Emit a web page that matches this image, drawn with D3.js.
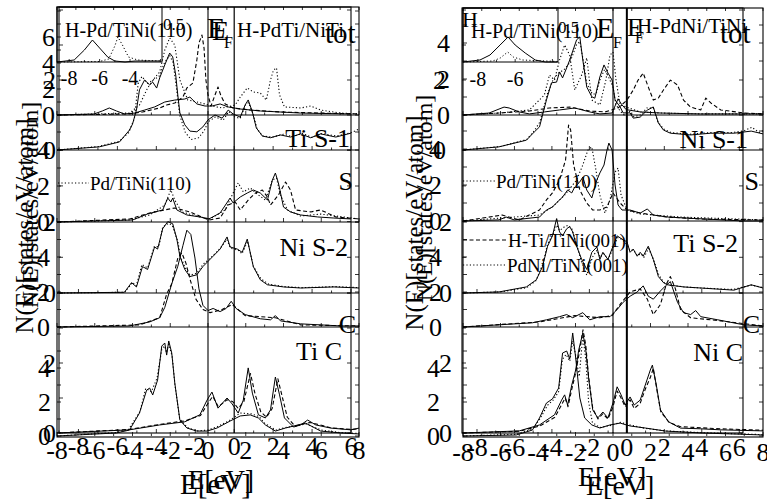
<!DOCTYPE html>
<html><head><meta charset="utf-8">
<script src="https://cdn.jsdelivr.net/npm/d3@7/dist/d3.min.js"></script>
<style>
body{margin:0;background:#fff}
svg{display:block}
</style></head>
<body><svg id="chart" width="767" height="500"></svg>
<script>
// ================= DATA =================
const energyTicksA = [-8,-6,-4,-2,0,2,4,6,8];
const energyTicksB = [-8,-6,-4,-2,0,2,4,6];
const insetTicksL = [-8,-6,-4];
const insetTicksR = [-8,-6];
const dosTicksTotL = [0,2,4,6];
const dosTicks024 = [0,2,4];
const dosTicks02 = [0,2];

const stripNamesL = ['tot','Ti S-1','S','Ni S-2','C','Ti C'];
const stripNamesR = ['tot','Ni S-1','S','Ti S-2','C','Ni C'];
const headerL = ['H-Pd/TiNi(110)','0.5','E','F','H-PdTi/NiTi'];
const headerR = ['H','H-Pd/TiNi(110)','0.5','E','F','H-PdNi/TiNi'];
const legendL = ['Pd/TiNi(110)'];
const legendR = ['Pd/TiNi(110)','H-Ti/TiNi(001)','PdNi/TiNi(001)'];
const axisTitleX = 'E[eV]';
const axisTitleY = 'N(E)[states/eV/atom]';

// ---- left panel curves [E (eV), N(E)] ----
const L_tot_solid = [[-8,0],[-6.03,0.08],[-5.6,0.31],[-5.23,0.54],[-4.85,0.31],[-4.43,0.08],[-3.89,0.15],[-3.36,0.38],[-2.83,0.62],[-2.29,1.0],[-1.76,1.15],[-1.23,1.23],[-0.96,1.38],[-0.59,0.85],[-0.16,0.69],[0.21,0.69],[0.64,0.85],[1.07,0.62],[1.71,0.46],[2.77,0.31],[4.91,0.15],[7.57,0.08]];
const L_tot_dash = [[-8,0],[-4.16,0.08],[-3.47,0.23],[-2.56,0.54],[-2.19,0.77],[-1.76,0.92],[-1.33,1.38],[-1.12,2.08],[-0.8,2.46],[-0.59,4.23],[-0.48,5.54],[-0.32,6.15],[-0.21,5.15],[-0.11,2.69],[0,1.54],[0.16,0.69],[0.37,1.54],[0.53,2.15],[0.69,1.46],[0.91,0.85],[1.33,0.54],[2.24,0.38],[3.84,0.23],[5.97,0.15],[8,0.08]];
const L_tot_dot = [[-8,0],[-4.16,0.15],[-3.63,0.77],[-3.2,2.08],[-2.83,2.85],[-2.56,3.31],[-2.29,5.0],[-2.03,5.92],[-1.76,5.38],[-1.49,2.69],[-1.07,1.15],[-0.59,1.0],[-0.16,0.85],[0.21,0.69],[0.75,0.54],[1.44,0.77],[1.71,1.38],[2.08,2.08],[2.4,1.77],[2.77,1.69],[3.09,1.15],[3.31,2.69],[3.47,3.46],[3.63,3.62],[3.79,1.54],[4.05,0.62],[4.91,0.54],[5.44,0.69],[5.97,0.38],[7.04,0.15],[8,0.08]];
const L_TiS1_solid = [[-8,0],[-5.76,0.09],[-4.69,0.23],[-4.16,0.57],[-4.0,0.74],[-3.79,1.14],[-3.63,1.72],[-3.36,2.0],[-3.09,1.86],[-2.93,1.94],[-2.72,1.77],[-2.56,2.06],[-2.29,2.43],[-2.03,2.77],[-1.87,2.66],[-1.71,2.14],[-1.6,1.57],[-1.49,1.06],[-1.23,0.72],[-0.96,0.54],[-0.59,0.52],[-0.27,0.66],[0,0.86],[0.37,1.0],[0.75,0.91],[1.07,1.14],[1.33,1.03],[1.71,0.94],[1.97,1.29],[2.13,1.43],[2.35,1.09],[2.56,0.63],[2.88,0.4],[3.31,0.35],[3.84,0.43],[4.37,0.37],[4.91,0.46],[5.44,0.35],[5.97,0.46],[6.77,0.37],[7.57,0.48]];
const L_TiS1_dot = [[-8,0],[-5.8,0.1],[-4.7,0.25],[-4.2,0.5],[-3.9,0.9],[-3.7,1.9],[-3.5,2.1],[-3.2,1.9],[-2.9,2.0],[-2.6,2.1],[-2.3,2.5],[-2.03,2.7],[-1.85,2.5],[-1.7,1.9],[-1.5,1.0],[-1.2,0.5],[-0.9,0.3],[-0.5,0.35],[-0.2,0.55],[0,0.8],[0.4,0.95],[0.8,0.85],[1.1,1.1],[1.4,0.95],[1.7,0.9],[2.0,1.3],[2.15,1.35],[2.4,1.0],[2.6,0.6],[2.9,0.4],[3.4,0.37],[4,0.45],[4.5,0.38],[5,0.48],[5.5,0.36],[6,0.47],[6.8,0.4],[7.6,0.5],[8,0.6]];
const L_S_solid = [[-8,0],[-4.0,0.11],[-3.2,0.45],[-2.4,0.67],[-2.13,1.33],[-1.97,1.11],[-1.87,1.33],[-1.65,0.67],[-1.12,0.39],[-0.43,0.28],[0.05,0.17],[0.64,0.5],[1.17,1.33],[1.33,1.06],[1.71,1.39],[2.08,1.61],[2.4,1.78],[2.77,1.61],[3.15,1.22],[3.41,2.33],[3.57,2.72],[3.73,2.17],[4.0,0.83],[4.37,0.56],[4.91,0.39],[5.81,0.28],[6.67,0.22],[7.57,0.17]];
const L_S_dash = [[-8,0],[-4.15,0.17],[-3.09,0.5],[-2.29,0.67],[-1.76,0.78],[-0.96,0.56],[0.05,0.11],[0.64,0.22],[1.07,0.94],[1.44,1.11],[1.71,0.67],[2.13,1.22],[2.51,1.61],[2.88,1.78],[3.15,1.39],[3.31,0.94],[3.73,1.5],[4.11,2.22],[4.37,1.78],[4.64,0.67],[5.44,0.56],[5.97,0.67],[6.77,0.28],[8,0.17]];
const L_S_dot = [[-8,0],[-4.15,0.11],[-3.09,0.39],[-2.29,0.94],[-1.97,1.78],[-1.76,1.22],[-1.39,0.56],[-0.43,0.28],[0.11,0.17],[0.91,0.67],[1.28,1.5],[1.6,2.17],[1.87,1.67],[2.24,1.89],[2.67,1.5],[3.04,1.22],[3.41,2.33],[3.63,2.44],[3.84,1.5],[4.21,0.67],[4.91,0.33],[5.97,0.44],[8,0.17]];
const L_NiS2_solid = [[-8,0],[-4.43,0.02],[-4.05,0.29],[-3.79,0.17],[-3.47,0.74],[-3.2,0.66],[-2.83,1.29],[-2.67,1.23],[-2.4,1.8],[-2.13,2.0],[-1.87,1.94],[-1.65,1.51],[-1.49,1.03],[-1.23,0.66],[-0.96,0.46],[-0.59,0.51],[-0.27,0.74],[0.27,1.03],[0.64,1.23],[1.01,1.57],[1.17,1.29],[1.55,1.23],[1.81,1.14],[2.08,1.51],[2.4,0.74],[2.77,0.37],[3.15,0.23],[4.0,0.17],[4.91,0.14],[6.67,0.17],[8,0.14]];
const L_NiS2_dot = [[-8,0],[-4.4,0.02],[-4.0,0.3],[-3.8,0.2],[-3.5,0.8],[-3.2,0.7],[-2.85,1.3],[-2.6,1.3],[-2.4,1.85],[-2.1,1.95],[-1.9,1.9],[-1.6,1.45],[-1.45,1.0],[-1.2,0.7],[-0.95,0.5],[-0.6,0.55],[-0.27,0.8],[0.27,1.05],[0.64,1.25],[1.0,1.5],[1.2,1.25],[1.6,1.2],[1.8,1.1],[2.1,1.45],[2.4,0.75],[2.8,0.4],[3.2,0.25],[4,0.18],[5,0.15],[6.7,0.18],[8,0.15]];
const L_C_solid = [[-8,0],[-4.16,0.06],[-3.09,0.29],[-2.56,0.53],[-2.29,1.12],[-1.92,2.47],[-1.6,3.47],[-1.33,4.65],[-1.12,5.53],[-0.91,5.29],[-0.69,3.94],[-0.48,2.18],[-0.27,1.24],[0,0.94],[0.27,1.06],[0.64,0.88],[0.96,1.06],[1.23,1.47],[1.49,1.06],[1.97,0.71],[2.77,0.47],[3.31,0.41],[3.57,0.65],[3.84,0.35],[4.91,0.18],[7.04,0.06],[8,0.06]];
const L_C_dash = [[-8,0],[-3.63,0.12],[-2.56,0.53],[-2.19,1.88],[-1.92,2.47],[-1.6,3.94],[-1.39,4.24],[-1.17,3.65],[-0.96,2.76],[-0.64,1.59],[-0.27,1.0],[0.11,0.82],[0.75,1.0],[1.28,1.29],[1.97,0.65],[3.57,0.53],[4.91,0.12],[8,0.06]];
const L_TiC_solid = [[-8,0],[-4.85,0.18],[-4.16,0.35],[-3.63,1.35],[-3.25,2.7],[-3.09,2.82],[-2.93,2.41],[-2.67,3.29],[-2.45,5.29],[-2.29,5.47],[-2.19,4.76],[-2.08,5.59],[-1.92,4.88],[-1.76,3.12],[-1.49,0.94],[-1.12,0.47],[-0.59,0.29],[-0.05,0.29],[0.48,0.47],[1.17,0.88],[1.71,1.18],[2.24,1.24],[2.67,1.06],[3.04,0.65],[3.57,0.29],[4.11,0.47],[5.17,0.76],[5.97,0.29],[7.04,0.18],[8,0.12]];
const L_TiC_dot = [[-8,0],[-4.9,0.2],[-4.2,0.4],[-3.6,1.45],[-3.3,2.8],[-3.0,2.6],[-2.7,3.4],[-2.45,5.1],[-2.3,5.3],[-2.2,4.9],[-2.08,5.4],[-1.9,4.7],[-1.75,3.0],[-1.5,1.0],[-1.1,0.5],[-0.6,0.3],[0,0.35],[0.5,0.55],[1.2,0.95],[1.7,1.35],[2.3,1.3],[2.7,1.15],[3.0,0.75],[3.6,0.35],[4.1,0.5],[5.2,0.7],[6.0,0.35],[7.0,0.2],[8,0.15]];
const L_TiC2_solid = [[-8,0],[-4.16,0.09],[-2.56,0.23],[-1.23,0.32],[-0.43,0.52],[-0.05,0.94],[0.21,1.17],[0.53,0.71],[1.01,1.0],[1.28,0.83],[1.6,0.57],[1.87,0.94],[2.13,1.86],[2.35,1.14],[2.67,0.52],[3.04,0.43],[3.31,0.66],[3.57,1.6],[3.79,1.09],[4.05,0.43],[4.53,0.17],[4.91,0.23],[5.28,0.37],[5.71,0.23],[6.51,0.14],[7.57,0.09],[8,0.14]];
const L_TiC2_dash = [[-8,0],[-4.2,0.1],[-2.5,0.25],[-1.2,0.35],[-0.4,0.5],[0,0.85],[0.25,1.05],[0.55,0.75],[1.0,0.95],[1.3,0.9],[1.6,0.7],[1.9,0.9],[2.25,1.7],[2.5,1.1],[2.8,0.6],[3.1,0.45],[3.4,0.7],[3.7,1.55],[3.95,1.0],[4.2,0.45],[4.6,0.2],[5.0,0.25],[5.4,0.3],[5.8,0.25],[6.5,0.15],[7.6,0.1],[8,0.12]];
const L_inset_solid = [[-8.8,0],[-7.67,0.2],[-7.0,1.2],[-6.47,2.2],[-6.0,1.4],[-5.47,0.5],[-5.0,0.1],[-4.33,0],[-3.67,0.1],[-2.0,0.1]];
const L_inset_dot = [[-8.8,0],[-6,0.05],[-5.4,0.3],[-5.0,1.6],[-4.8,2.5],[-4.5,1.7],[-4.1,0.5],[-3.5,0.2],[-2,0.1]];

// ---- right panel curves ----
const R_tot_solid = [[-8,0],[-6.61,0.11],[-6.08,0.33],[-5.81,0.44],[-5.54,0.39],[-5.0,0.17],[-4.46,0.06],[-3.66,0.17],[-2.85,0.28],[-2.04,0.39],[-1.24,0.17],[-0.7,0.06],[-0.05,0.11],[0.27,0.9],[0.45,0.6],[0.7,0.3],[1.45,0.17],[2.53,0.11],[4.68,0.06],[8,0.06]];
const R_tot_dash = [[-8,0],[-6.08,0.11],[-4.46,0.22],[-3.39,0.39],[-2.31,0.44],[-1.24,0.22],[-0.43,0.17],[0.27,0.39],[0.75,0.83],[1.08,1.39],[1.34,1.94],[1.61,2.33],[1.88,1.56],[2.15,0.83],[2.42,0.94],[2.69,1.39],[3.06,1.94],[3.44,1.67],[3.76,0.83],[4.14,0.44],[4.68,0.28],[4.95,0.94],[5.22,0.67],[5.75,0.28],[7.0,0.11],[8,0.06]];
const R_tot_dot = [[-8,0],[-6.08,0.11],[-4.46,0.28],[-3.66,1.11],[-3.39,2.22],[-3.12,1.94],[-2.85,3.06],[-2.58,3.89],[-2.31,3.33],[-2.04,1.39],[-1.67,2.22],[-1.4,3.17],[-1.13,0.83],[-0.7,0.56],[-0.38,1.94],[-0.16,3.33],[0,3.5],[0.16,1.94],[0.38,0.56],[1.45,0.17],[2.53,0.11],[4.68,0.06],[8,0.06]];
const R_NiS1_solid = [[-8,0],[-6.08,0.09],[-4.62,0.28],[-4.19,0.52],[-3.92,0.66],[-3.55,1.43],[-3.28,1.92],[-3.01,1.94],[-2.85,2.23],[-2.69,2.06],[-2.47,2.35],[-2.31,2.57],[-1.94,3.15],[-1.77,3.23],[-1.61,2.57],[-1.4,1.8],[-1.13,1.52],[-0.97,1.48],[-0.7,2.09],[-0.48,2.43],[-0.27,2.2],[-0.05,2.0],[0.11,1.43],[0.38,1.23],[0.54,1.06],[0.91,1.06],[1.08,0.91],[1.45,0.94],[1.83,1.14],[2.15,1.23],[2.42,0.77],[2.69,0.57],[3.06,0.48],[4.14,0.43],[5.22,0.48],[6.45,0.48],[7.37,0.54],[8,0.46]];
const R_NiS1_dot = [[-8,0],[-6,0.1],[-4.6,0.3],[-4.2,0.55],[-3.9,0.8],[-3.5,1.6],[-3.2,2.0],[-2.9,2.2],[-2.6,2.3],[-2.3,2.5],[-1.95,3.0],[-1.77,3.1],[-1.6,2.6],[-1.4,1.9],[-1.1,1.6],[-0.9,1.6],[-0.7,2.0],[-0.45,2.3],[-0.25,2.1],[0,1.8],[0.15,1.3],[0.4,1.1],[0.6,1.0],[0.9,1.1],[1.1,0.95],[1.5,1.0],[1.8,1.2],[2.15,1.2],[2.4,0.8],[2.7,0.6],[3.1,0.5],[4.1,0.45],[5.2,0.5],[6.4,0.5],[7.0,0.55],[7.4,0.65],[7.8,0.5],[8,0.55]];
const R_S_solid = [[-8,0],[-6.08,0.06],[-5.7,0.22],[-5.27,0.06],[-3.92,0.22],[-3.55,0.61],[-3.23,0.78],[-2.96,1.06],[-2.69,1.33],[-2.42,1.72],[-2.2,1.56],[-2.04,1.89],[-1.77,2.17],[-1.61,2.44],[-1.4,1.72],[-1.13,1.28],[-0.86,2.28],[-0.7,2.67],[-0.48,3.11],[-0.32,3.94],[-0.22,4.33],[-0.05,3.94],[0.11,2.0],[0.27,0.89],[0.48,0.61],[0.91,0.61],[1.45,0.44],[1.83,0.67],[2.15,0.33],[2.9,0.22],[3.76,0.17],[7,0],[8,0]];
const R_S_dash = [[-8,0],[-5.91,0.33],[-5,0.06],[-3.92,0.61],[-3.55,1.17],[-3.23,1.56],[-2.85,2.28],[-2.53,3.39],[-2.37,5.33],[-2.26,5.06],[-2.1,3.11],[-1.77,1.72],[-1.4,1.0],[-1.08,0.61],[-0.7,0.61],[-0.32,0.78],[0,1.56],[0.38,1.0],[0.75,0.61],[1.45,0.44],[2.9,0.22],[4.68,0.11],[8,0.06]];
const R_S_dot = [[-8,0],[-3.92,0.33],[-3.23,0.78],[-2.58,1.44],[-1.94,2.28],[-1.61,3.11],[-1.34,3.94],[-1.13,4.11],[-0.91,2.83],[-0.7,1.44],[-0.43,0.44],[-0.16,1.17],[0.11,2.72],[0.27,2.94],[0.43,1.44],[0.75,0.61],[1.45,0.39],[3.6,0.22],[8,0.06]];
const R_TiS2_solid = [[-8,0],[-6.08,0.03],[-4.62,0.17],[-4.09,0.37],[-3.76,0.74],[-3.49,1.31],[-3.23,1.6],[-3.01,2.08],[-2.85,1.71],[-2.69,1.6],[-2.47,1.8],[-2.31,1.86],[-2.15,1.71],[-1.94,1.31],[-1.67,0.94],[-1.4,0.66],[-1.13,1.14],[-0.86,1.29],[-0.7,0.94],[-0.54,1.14],[-0.27,0.94],[0,1.31],[0.22,1.6],[0.48,1.51],[0.75,1.43],[0.91,1.14],[1.08,1.23],[1.29,1.03],[1.45,1.14],[1.61,1.03],[1.88,1.31],[2.15,0.94],[2.42,0.46],[2.69,0.29],[2.9,0.23],[3.76,0.17],[4.68,0.14],[6.45,0.08],[7.37,0.23],[8,0.14]];
const R_TiS2_dot = [[-8,0],[-6,0.03],[-4.6,0.15],[-4.1,0.35],[-3.75,0.8],[-3.5,1.35],[-3.2,1.65],[-3.0,1.9],[-2.85,1.75],[-2.6,1.85],[-2.4,1.9],[-2.2,1.8],[-1.95,1.4],[-1.7,0.9],[-1.4,0.5],[-1.1,1.0],[-0.85,1.2],[-0.7,1.0],[-0.5,1.1],[-0.25,0.95],[0,1.25],[0.25,1.55],[0.5,1.5],[0.75,1.35],[0.9,1.2],[1.1,1.2],[1.3,1.05],[1.5,1.1],[1.65,1.0],[1.9,1.25],[2.15,0.95],[2.45,0.5],[2.7,0.3],[3.0,0.22],[3.8,0.17],[4.7,0.14],[6.4,0.1],[7.4,0.22],[8,0.15]];
const R_C_solid = [[-8,0],[-4.3,0.24],[-3.55,0.41],[-2.85,0.59],[-2.47,0.71],[-2.15,0.53],[-1.61,0.82],[-1.24,0.41],[-0.7,0.59],[-0.16,0.59],[0.22,1.0],[0.54,1.41],[0.91,1.76],[1.29,2.0],[1.61,2.35],[1.88,1.76],[2.15,1.59],[2.53,2.06],[2.8,2.35],[3.06,2.59],[3.44,1.41],[3.76,0.82],[4.14,0.71],[4.41,0.94],[4.68,0.59],[5.59,0.41],[7.0,0.12],[8,0.06]];
const R_C_dash = [[-8,0],[-3.92,0.29],[-2.04,0.65],[-0.7,0.53],[-0.05,0.65],[0.38,1.29],[0.91,2.0],[1.45,2.18],[1.83,1.59],[2.15,0.71],[2.53,1.29],[2.85,2.47],[3.06,2.88],[3.33,2.18],[3.6,1.0],[4.14,0.53],[5.75,0.35],[8,0.06]];
const R_NiC_solid = [[-8,0],[-5.16,0.06],[-4.3,0.35],[-3.92,1.06],[-3.55,1.94],[-3.23,2.18],[-2.9,2.82],[-2.69,4.88],[-2.47,5.0],[-2.31,4.53],[-2.15,6.06],[-1.99,4.59],[-1.77,2.24],[-1.51,1.06],[-1.13,0.65],[-0.7,0.47],[-0.16,0.65],[0.38,0.76],[0.91,0.59],[1.72,0.47],[2.8,0.29],[4.68,0.18],[8,0.06]];
const R_NiC_dot = [[-8,0],[-5.2,0.1],[-4.3,0.4],[-3.9,1.0],[-3.5,1.8],[-3.2,2.1],[-2.9,2.6],[-2.7,4.5],[-2.5,4.8],[-2.3,4.4],[-2.15,5.6],[-2.0,4.8],[-1.8,3.5],[-1.61,5.9],[-1.45,4.5],[-1.3,2.0],[-1.1,0.8],[-0.7,0.5],[-0.2,0.6],[0.4,0.8],[0.9,0.65],[1.7,0.45],[2.8,0.3],[4.7,0.2],[8,0.08]];
const R_NiC2_solid = [[-8,0],[-5,0.06],[-3.92,0.23],[-3.12,0.52],[-2.74,0.94],[-2.58,1.09],[-2.42,0.8],[-2.2,1.37],[-1.99,1.8],[-1.83,2.37],[-1.61,2.86],[-1.45,2.37],[-1.29,1.52],[-1.08,0.66],[-0.81,0.43],[-0.54,0.6],[-0.27,0.43],[0,0.86],[0.22,1.32],[0.43,1.09],[0.65,0.8],[0.91,1.03],[1.13,0.8],[1.45,0.94],[1.72,1.37],[1.99,1.8],[2.1,1.94],[2.31,1.37],[2.53,0.66],[2.96,0.32],[3.6,0.14],[4.68,0.12],[5.75,0.09],[8,0.06]];
const R_NiC2_dash = [[-8,0],[-5,0.05],[-3.9,0.2],[-3.1,0.45],[-2.7,0.85],[-2.55,1.0],[-2.4,0.75],[-2.2,1.25],[-2.0,1.7],[-1.83,2.2],[-1.6,2.95],[-1.45,2.5],[-1.3,1.6],[-1.08,0.7],[-0.8,0.4],[-0.54,0.55],[-0.27,0.4],[0,0.75],[0.22,1.2],[0.43,1.0],[0.65,0.75],[0.91,0.95],[1.13,0.7],[1.45,0.85],[1.72,1.25],[2.0,1.6],[2.15,1.85],[2.35,1.2],[2.55,0.6],[3.0,0.3],[3.6,0.18],[4.7,0.15],[5.7,0.12],[8,0.08]];
const R_inset_solid = [[-8.81,0],[-7.89,0.2],[-7.35,0.7],[-6.81,1.7],[-6.38,2.5],[-6.0,1.7],[-5.46,0.9],[-4.92,0.2],[-4.38,0],[-3.73,0]];
const R_inset_dot = [[-8.8,0],[-7.2,0.1],[-6.8,0.4],[-6.4,1.0],[-6.1,0.5],[-5.6,0.2],[-3.7,0.05]];

// ================= FONT (pick an installed serif face) =================
function pickSerif(){
  const cands = ['Liberation Serif','DejaVu Serif','Noto Serif','Times New Roman','Tinos','FreeSerif','Nimbus Roman'];
  const c = document.createElement('canvas').getContext('2d');
  const probe = 'mmmmmmmmWWiiilll10(8)';
  for (const base of ['monospace','sans-serif']) {
    c.font = `40px ${base}`; const w0 = c.measureText(probe).width;
    for (const f of cands) {
      c.font = `40px "${f}", ${base}`;
      if (Math.abs(c.measureText(probe).width - w0) > 0.5) return `"${f}", serif`;
    }
  }
  return 'serif';
}
const FONT = pickSerif();

// ================= LAYOUT =================
const panels = [
 { xA:[57,359], domA:[-8,8], xB:[59,351], domB:[-9,6], top:7, botA:437, botB:433, efBw:1.2,
   ticksA:energyTicksA, ticksB:energyTicksB, xlabA:459, xlabB:455,
   strips:[
    {id:'A0',f:'A',base:115,top:7,k:13,ticks:dosTicksTotL,lx:55},
    {id:'A1',f:'A',base:222,top:115,k:18,ticks:dosTicks024,lx:50},
    {id:'A2',f:'A',base:327,top:222,k:17.5,ticks:dosTicks024,lx:50},
    {id:'A3',f:'A',base:436,top:327,k:17,ticks:dosTicks024,lx:51},
    {id:'B0',f:'B',base:150,top:7,k:35,ticks:dosTicks02,lx:56},
    {id:'B1',f:'B',base:293,top:150,k:35.7,ticks:dosTicks02,lx:56},
    {id:'B2',f:'B',base:433,top:293,k:35,ticks:dosTicks02,lx:56}],
   curves:[
    {d:L_tot_solid,s:'A0',st:'solid'},{d:L_tot_dash,s:'A0',st:'dash'},{d:L_tot_dot,s:'A0',st:'dot'},
    {d:L_TiS1_solid,s:'B0',st:'solid'},{d:L_TiS1_dot,s:'B0',st:'dot'},
    {d:L_S_solid,s:'A1',st:'solid'},{d:L_S_dash,s:'A1',st:'dash'},{d:L_S_dot,s:'A1',st:'dot'},
    {d:L_NiS2_solid,s:'B1',st:'solid'},{d:L_NiS2_dot,s:'B1',st:'dot'},
    {d:L_C_solid,s:'A2',st:'solid'},{d:L_C_dash,s:'A2',st:'dash'},
    {d:L_TiC_solid,s:'A3',st:'solid'},{d:L_TiC_dot,s:'A3',st:'dot'},
    {d:L_TiC2_solid,s:'B2',st:'solid'},{d:L_TiC2_dash,s:'B2',st:'dash'}],
   inset:{x:[57,162],dom:[-8.8,-1.9],base:62,top:7,k:10,ticks:insetTicksL,labY:85,
          curves:[{d:L_inset_solid,st:'solid'},{d:L_inset_dot,st:'dot'}]},
   texts:[
    {t:headerL[0],x:65,y:37,size:20},{t:headerL[1],x:163,y:30,size:17},
    {t:headerL[2],x:207,y:38,size:30},{t:headerL[2],x:212,y:40,size:28},{t:headerL[3],x:224,y:48,size:16},
    {t:headerL[4],x:237,y:37,size:21},
    {t:stripNamesL[0],x:325,y:43,size:29},
    {t:stripNamesL[1],x:350,y:147,size:26,a:'end'},
    {t:stripNamesL[2],x:353,y:190,size:26,a:'end'},
    {t:stripNamesL[3],x:348,y:256,size:26,a:'end'},
    {t:stripNamesL[4],x:356,y:333,size:26,a:'end'},
    {t:stripNamesL[5],x:342,y:360,size:26,a:'end'}],
   legends:[{t:legendL[0],x0:58,x1:89,y:183,st:'dot',size:19}],
   titleX:[{x:180,y:494,size:29},{x:188,y:489,size:27}],
   titleY:[{x:33,y:226,size:25},{x:38,y:205,size:24}]
 },
 { xA:[463,763], domA:[-8,8], xB:[462,743], domB:[-8.8,6.2], top:8, botA:437, botB:433, efBw:2,
   ticksA:energyTicksA, ticksB:energyTicksB, xlabA:461, xlabB:456,
   strips:[
    {id:'A0',f:'A',base:115,top:8,k:18,ticks:dosTicks024,lx:450},
    {id:'A1',f:'A',base:221,top:115,k:18,ticks:dosTicks024,lx:442},
    {id:'A2',f:'A',base:327,top:221,k:17.5,ticks:dosTicks024,lx:442},
    {id:'A3',f:'A',base:436,top:327,k:17,ticks:dosTicks024,lx:440},
    {id:'B0',f:'B',base:150,top:8,k:35,ticks:dosTicks02,lx:446},
    {id:'B1',f:'B',base:293,top:150,k:35.7,ticks:dosTicks02,lx:452},
    {id:'B2',f:'B',base:433,top:293,k:35,ticks:dosTicks02,lx:452}],
   curves:[
    {d:R_tot_solid,s:'A0',st:'solid'},{d:R_tot_dash,s:'A0',st:'dash'},{d:R_tot_dot,s:'A0',st:'dot'},
    {d:R_NiS1_solid,s:'B0',st:'solid'},{d:R_NiS1_dot,s:'B0',st:'dot'},
    {d:R_S_solid,s:'A1',st:'solid'},{d:R_S_dash,s:'A1',st:'dash'},{d:R_S_dot,s:'A1',st:'dot'},
    {d:R_TiS2_solid,s:'B1',st:'solid'},{d:R_TiS2_dot,s:'B1',st:'dot'},
    {d:R_C_solid,s:'A2',st:'solid'},{d:R_C_dash,s:'A2',st:'dash'},
    {d:R_NiC_solid,s:'A3',st:'solid'},{d:R_NiC_dot,s:'A3',st:'dot'},
    {d:R_NiC2_solid,s:'B2',st:'solid'},{d:R_NiC2_dash,s:'B2',st:'dash'}],
   inset:{x:[463,558],dom:[-8.8,-3.7],base:62,top:8,k:10,ticks:insetTicksR,labY:86,
          curves:[{d:R_inset_solid,st:'solid'},{d:R_inset_dot,st:'dot'}]},
   texts:[
    {t:headerR[0],x:462,y:27,size:22},{t:headerR[1],x:471,y:38,size:20},{t:headerR[2],x:558,y:33,size:17},
    {t:headerR[3],x:596,y:38,size:30},{t:headerR[4],x:613,y:48,size:16},
    {t:headerR[3],x:627,y:36,size:26},{t:headerR[4],x:635,y:43,size:16},
    {t:headerR[5],x:637,y:33,size:21},
    {t:stripNamesR[0],x:720,y:43,size:29},
    {t:stripNamesR[1],x:748,y:148,size:26,a:'end'},
    {t:stripNamesR[2],x:759,y:190,size:26,a:'end'},
    {t:stripNamesR[3],x:738,y:252,size:26,a:'end'},
    {t:stripNamesR[4],x:760,y:333,size:26,a:'end'},
    {t:stripNamesR[5],x:743,y:361,size:26,a:'end'}],
   legends:[{t:legendR[0],x0:463,x1:495,y:181,st:'dot',size:19},
            {t:legendR[1],x0:463,x1:507,y:240,st:'dash',size:19},
            {t:legendR[2],x0:463,x1:506,y:265,st:'dot',size:19}],
   titleX:[{x:578,y:486,size:28},{x:586,y:495,size:28}],
   titleY:[{x:423,y:223,size:25},{x:432,y:198,size:24}]
 }
];

// ================= RENDER =================
const svg = d3.select('#chart');
const DASH = {solid:null, dash:'4,2.5', dot:'1.2,2.2'};
function txt(g){ return g.append('text').style('font-family',FONT).attr('fill','#000'); }

function drawPanel(P){
  const g = svg.append('g');
  const xA = d3.scaleLinear().domain(P.domA).range(P.xA);
  const xB = d3.scaleLinear().domain(P.domB).range(P.xB);
  const xs = {A:xA, B:xB};
  const ys = {};
  P.strips.forEach(s=>{ ys[s.id] = d3.scaleLinear().domain([0,(s.base-s.top)/s.k]).range([s.base,s.top]); });

  g.append('rect').attr('x',P.xA[0]).attr('y',P.top).attr('width',P.xA[1]-P.xA[0]).attr('height',P.botA-P.top)
    .attr('fill','none').attr('stroke','#000').attr('stroke-width',1.1);
  g.append('rect').attr('x',P.xB[0]).attr('y',P.top).attr('width',P.xB[1]-P.xB[0]).attr('height',P.botB-P.top)
    .attr('fill','none').attr('stroke','#000').attr('stroke-width',1.1);
  P.strips.filter(s=>s.base < P.botB-4).forEach(s=>{
    g.append('line').attr('x1',P.xA[0]).attr('x2',P.xA[1]).attr('y1',s.base).attr('y2',s.base)
      .attr('stroke','#000').attr('stroke-width',1.1);
  });
  g.append('line').attr('x1',xA(0)).attr('x2',xA(0)).attr('y1',P.top).attr('y2',P.botB).attr('stroke','#000').attr('stroke-width',1.1);
  g.append('line').attr('x1',xB(0)).attr('x2',xB(0)).attr('y1',P.top).attr('y2',P.botB).attr('stroke','#000').attr('stroke-width',P.efBw);

  P.strips.forEach(s=>{
    const x = xs[s.f]; const dom = x.domain();
    d3.range(Math.ceil(dom[0]), Math.floor(dom[1])+1).forEach(t=>{
      g.append('line').attr('x1',x(t)).attr('x2',x(t)).attr('y1',s.base).attr('y2',s.base-(t%2===0?4:2.5))
        .attr('stroke','#000').attr('stroke-width',0.8);
    });
  });
  d3.range(-8,9).forEach(t=>{
    g.append('line').attr('x1',xA(t)).attr('x2',xA(t)).attr('y1',P.top).attr('y2',P.top+3)
      .attr('stroke','#000').attr('stroke-width',0.8);
  });
  P.strips.forEach(s=>{
    const y = ys[s.id];
    const xl = s.f==='A'?P.xA[0]:P.xB[0], xr = s.f==='A'?P.xA[1]:P.xB[1];
    d3.range(0, Math.floor(y.domain()[1])+1).forEach(t=>{
      g.append('line').attr('x1',xl).attr('x2',xl+4).attr('y1',y(t)).attr('y2',y(t)).attr('stroke','#000').attr('stroke-width',0.8);
      g.append('line').attr('x1',xr).attr('x2',xr-4).attr('y1',y(t)).attr('y2',y(t)).attr('stroke','#000').attr('stroke-width',0.8);
    });
    s.ticks.forEach(t=>{
      txt(g).attr('x',s.lx).attr('y',y(t)).attr('dy','0.35em').attr('text-anchor','end').attr('font-size',26).text(t);
    });
  });
  P.ticksA.forEach(t=> txt(g).attr('x',xA(t)).attr('y',P.xlabA).attr('text-anchor','middle').attr('font-size',26).text(t));
  P.ticksB.forEach(t=> txt(g).attr('x',xB(t)).attr('y',P.xlabB).attr('text-anchor','middle').attr('font-size',26).text(t));

  P.curves.forEach(c=>{
    const y = ys[c.s];
    const ln = d3.line().x(d=>xA(d[0])).y(d=>y(d[1]));
    g.append('path').attr('d',ln(c.d)).attr('fill','none').attr('stroke','#000')
      .attr('stroke-width',c.st==='solid'?1:1.1).attr('stroke-dasharray',DASH[c.st]).attr('stroke-linejoin','round');
  });

  const I = P.inset;
  const ix = d3.scaleLinear().domain(I.dom).range(I.x);
  const iy = d3.scaleLinear().domain([0,(I.base-I.top)/I.k]).range([I.base,I.top]);
  g.append('rect').attr('x',I.x[0]).attr('y',I.top).attr('width',I.x[1]-I.x[0]).attr('height',I.base-I.top)
    .attr('fill','none').attr('stroke','#000').attr('stroke-width',1);
  d3.range(Math.ceil(I.dom[0]), Math.floor(I.dom[1])+1).forEach(t=>{
    g.append('line').attr('x1',ix(t)).attr('x2',ix(t)).attr('y1',I.base).attr('y2',I.base-(t%2===0?3:2)).attr('stroke','#000').attr('stroke-width',0.8);
  });
  I.ticks.forEach(t=> txt(g).attr('x',ix(t)).attr('y',I.labY).attr('text-anchor','middle').attr('font-size',20).text(t));
  I.curves.forEach(c=>{
    const ln = d3.line().x(d=>ix(d[0])).y(d=>iy(d[1]));
    g.append('path').attr('d',ln(c.d)).attr('fill','none').attr('stroke','#000').attr('stroke-width',1).attr('stroke-dasharray',DASH[c.st]);
  });

  P.texts.forEach(T=>{
    txt(g).attr('x',T.x).attr('y',T.y).attr('font-size',T.size).attr('text-anchor',T.a||'start').text(T.t);
  });
  P.legends.forEach(Lg=>{
    g.append('line').attr('x1',Lg.x0).attr('x2',Lg.x1).attr('y1',Lg.y).attr('y2',Lg.y).attr('stroke','#000')
      .attr('stroke-width',1.1).attr('stroke-dasharray',DASH[Lg.st]);
    txt(g).attr('x',Lg.x1+1).attr('y',Lg.y+7).attr('font-size',Lg.size).text(Lg.t);
  });
  P.titleX.forEach(T=> txt(g).attr('x',T.x).attr('y',T.y).attr('font-size',T.size).text(axisTitleX));
  P.titleY.forEach(T=> txt(g).attr('transform',`translate(${T.x},${T.y}) rotate(-90)`)
      .attr('text-anchor','middle').attr('font-size',T.size).text(axisTitleY));
}
panels.forEach(drawPanel);
</script>
</body></html>
